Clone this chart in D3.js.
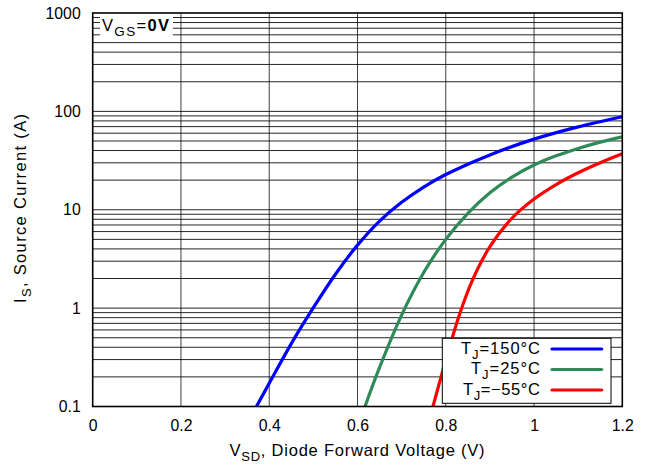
<!DOCTYPE html>
<html>
<head>
<meta charset="utf-8">
<script src="https://cdn.jsdelivr.net/npm/d3@7"></script>
<style>
  html, body { margin: 0; padding: 0; background: #fff; }
  text { font-family: "Liberation Sans", Arial, sans-serif; fill: #000; }
</style>
</head>
<body>
<svg id="chart" width="645" height="466"></svg>
<script>
// Diode forward characteristic: source current vs. forward voltage
const xTicks = [0, 0.2, 0.4, 0.6, 0.8, 1.0, 1.2];
const xTickLabels = ["0", "0.2", "0.4", "0.6", "0.8", "1", "1.2"];
const yTicks = [0.1, 1, 10, 100, 1000];
const yTickLabels = ["0.1", "1", "10", "100", "1000"];

const seriesNames = ["150°C", "25°C", "\u221255°C"];
const seriesColors = ["#0000ff", "#2e8b57", "#ff0000"];

// TJ = 150 °C
const vHot = [0.371, 0.40, 0.45, 0.50, 0.55, 0.60, 0.65, 0.70, 0.75, 0.80, 0.90, 1.00, 1.10, 1.20];
const iHot = [0.1, 0.172, 0.436, 1.01, 2.21, 4.37, 7.67, 11.9, 17.0, 22.8, 36.1, 52.2, 69.6, 88.2];

// TJ = 25 °C
const vRoom = [0.617, 0.65, 0.70, 0.75, 0.80, 0.85, 0.90, 0.95, 1.00, 1.05, 1.10, 1.15, 1.20];
const iRoom = [0.1, 0.25, 0.85, 2.3, 5.0, 9.2, 14.9, 21.5, 28.5, 35.3, 42, 48.7, 55];

// TJ = -55 °C
const vCold = [0.771, 0.80, 0.83, 0.86, 0.90, 0.95, 1.00, 1.05, 1.10, 1.15, 1.20];
const iCold = [0.1, 0.295, 0.832, 1.905, 4.21, 8.2, 12.85, 18.05, 23.8, 30.1, 37.1];

const series = [
  { name: seriesNames[0], color: seriesColors[0], v: vHot, i: iHot, w: 79 },
  { name: seriesNames[1], color: seriesColors[1], v: vRoom, i: iRoom, w: 69 },
  { name: seriesNames[2], color: seriesColors[2], v: vCold, i: iCold, w: 77 }
];

const svg = d3.select("#chart");
const pLeft = 92.7, pRight = 622.3, pTop = 13, pBottom = 406.5;

const x = d3.scaleLinear().domain([0, 1.2]).range([pLeft, pRight]);
const y = d3.scaleLog().domain([0.1, 1000]).range([pBottom, pTop]);

// grid: vertical lines every 0.2 V, horizontal lines at every 1..9 × decade
const grid = svg.append("g").attr("stroke", "#000").attr("stroke-width", 1);
xTicks.slice(1, -1).forEach(v => {
  grid.append("line")
    .attr("x1", x(v)).attr("x2", x(v))
    .attr("y1", pTop).attr("y2", pBottom)
    .attr("stroke-opacity", 0.75);
});
const minor = [];
[0.1, 1, 10, 100].forEach(d => { for (let k = 2; k <= 9; k++) minor.push(d * k); });
minor.concat(yTicks.slice(1, -1)).forEach(v => {
  grid.append("line")
    .attr("x1", pLeft).attr("x2", pRight)
    .attr("y1", y(v)).attr("y2", y(v))
    .attr("stroke-opacity", 0.85);
});

// curves
svg.append("clipPath").attr("id", "plotClip")
  .append("rect").attr("x", pLeft).attr("y", pTop)
  .attr("width", pRight - pLeft).attr("height", pBottom - pTop);

const line = d3.line()
  .x(d => x(d[0])).y(d => y(d[1]))
  .curve(d3.curveCatmullRom.alpha(0.5));

const curves = svg.append("g").attr("clip-path", "url(#plotClip)");
series.forEach(s => {
  curves.append("path")
    .datum(s.v.map((v, k) => [v, s.i[k]]))
    .attr("fill", "none")
    .attr("stroke", s.color)
    .attr("stroke-width", 3.2)
    .attr("d", line);
});

// frame
svg.append("rect")
  .attr("x", pLeft).attr("y", pTop)
  .attr("width", pRight - pLeft).attr("height", pBottom - pTop)
  .attr("fill", "none").attr("stroke", "#000").attr("stroke-width", 1.6);

// axes (labels only)
const xAxis = d3.axisBottom(x).tickValues(xTicks)
  .tickFormat((d, k) => xTickLabels[k]).tickSize(0).tickPadding(13.5);
const gx = svg.append("g").attr("transform", `translate(0,${pBottom})`).call(xAxis);
gx.select(".domain").remove();
gx.selectAll("text").style("font-size", "15.8px")
  .style("font-family", "'Liberation Sans', Arial, sans-serif").attr("fill", "#000");

const yAxis = d3.axisLeft(y).tickValues(yTicks)
  .tickFormat((d, k) => yTickLabels[k]).tickSize(0).tickPadding(12);
const gy = svg.append("g").attr("transform", `translate(${pLeft},0)`).call(yAxis);
gy.select(".domain").remove();
gy.selectAll("text").style("font-size", "15.8px")
  .style("font-family", "'Liberation Sans', Arial, sans-serif").attr("fill", "#000");

// axis titles
const xt = svg.append("text")
  .attr("x", 229.5).attr("y", 456)
  .attr("textLength", 255).attr("lengthAdjust", "spacing")
  .style("font-size", "16.5px");
xt.append("tspan").text("V");
xt.append("tspan").attr("dy", 5).style("font-size", "13px").text("SD");
xt.append("tspan").attr("dy", -5).text(", Diode Forward Voltage (V)");

const yt = svg.append("text")
  .attr("transform", "translate(25.5,303) rotate(-90)")
  .attr("textLength", 189).attr("lengthAdjust", "spacing")
  .style("font-size", "16.5px");
yt.append("tspan").text("I");
yt.append("tspan").attr("dy", 5).style("font-size", "13px").text("S");
yt.append("tspan").attr("dy", -5).text(", Source Current (A)");

// gate-source condition label
svg.append("rect")
  .attr("x", 100).attr("y", pTop + 1.5)
  .attr("width", 73).attr("height", 24)
  .attr("fill", "#fff");
const vg = svg.append("text").attr("x", 102).attr("y", 30.5)
  .attr("textLength", 67).attr("lengthAdjust", "spacing")
  .style("font-size", "16.5px");
vg.append("tspan").text("V");
vg.append("tspan").attr("dy", 5).style("font-size", "13.5px").text("GS");
vg.append("tspan").attr("dy", -5).text("=");
vg.append("tspan").style("font-weight", "bold").text("0V");

// legend
const lg = svg.append("g");
lg.append("rect")
  .attr("x", 442.3).attr("y", 338.3)
  .attr("width", 168.7).attr("height", 65)
  .attr("fill", "#fff").attr("stroke", "#000").attr("stroke-width", 1);
series.forEach((s, k) => {
  const base = 353.5 + k * 20.5;
  const t = lg.append("text")
    .attr("x", 540 - s.w).attr("y", base)
    .attr("textLength", s.w).attr("lengthAdjust", "spacing")
    .style("font-size", "16.5px");
  t.append("tspan").text("T");
  t.append("tspan").attr("dy", 5).style("font-size", "13px").text("J");
  t.append("tspan").attr("dy", -5).text("=" + s.name);
  lg.append("line")
    .attr("x1", 552).attr("x2", 601.7)
    .attr("y1", base - 4.5).attr("y2", base - 4.5)
    .attr("stroke", s.color).attr("stroke-width", 3.2)
    .attr("stroke-linecap", "round");
});
</script>
</body>
</html>
